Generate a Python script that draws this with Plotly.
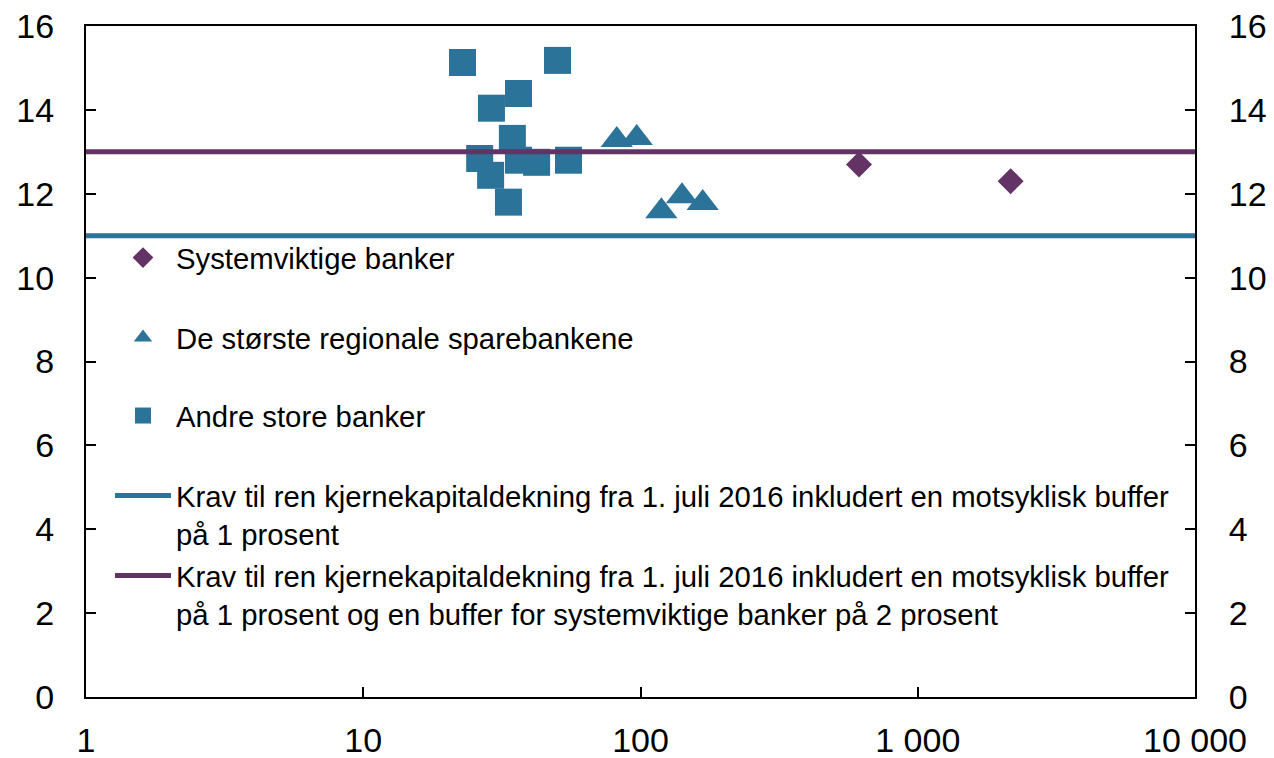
import plotly.graph_objects as go

# Bank groups: balance (NOK bn, log scale) vs. CET1 ratio (%)
sys_x = [614, 2163]
sys_y = [12.70, 12.30]

reg_x = [82.1, 96.9, 118.9, 141.1, 167.6]
reg_y = [13.28, 13.33, 11.58, 11.94, 11.78]

other_x = [22.8, 50.2, 36.3, 29.0, 34.5, 26.3, 36.3, 42.2, 55.0, 28.8, 33.4]
other_y = [15.13, 15.18, 14.39, 14.04, 13.32, 12.84, 12.80, 12.75, 12.80, 12.44, 11.80]

req_x = [1, 10000]
req_basic = [11, 11]
req_sys = [13, 13]

x_ticks = [1, 10, 100, 1000, 10000]
x_labels = ["1", "10", "100", "1 000", "10 000"]
y_ticks = [0, 2, 4, 6, 8, 10, 12, 14, 16]

PURPLE = "#633366"
BLUE = "#2B7399"
FONT = "Liberation Sans, Arial, sans-serif"

name_sys = "Systemviktige banker"
name_reg = "De største regionale sparebankene"
name_other = "Andre store banker"
name_basic = ("Krav til ren kjernekapitaldekning fra 1. juli 2016 inkludert en motsyklisk buffer"
              "<br>på 1 prosent")
name_full = ("Krav til ren kjernekapitaldekning fra 1. juli 2016 inkludert en motsyklisk buffer"
             "<br>på 1 prosent og en buffer for systemviktige banker på 2 prosent")

fig = go.Figure()
fig.add_trace(go.Scatter(x=sys_x, y=sys_y, mode="markers", name=name_sys,
                         marker=dict(symbol="diamond", size=20, color=PURPLE),
                         legend="legend"))
fig.add_trace(go.Scatter(x=reg_x, y=reg_y, mode="markers", name=name_reg,
                         marker=dict(symbol="triangle-up", size=28, color=BLUE),
                         legend="legend2"))
fig.add_trace(go.Scatter(x=other_x, y=other_y, mode="markers", name=name_other,
                         marker=dict(symbol="square", size=27, color=BLUE),
                         legend="legend3"))
fig.add_trace(go.Scatter(x=req_x, y=req_basic, mode="lines", name=name_basic,
                         line=dict(color=BLUE, width=5), yaxis="y2",
                         legend="legend4"))
fig.add_trace(go.Scatter(x=req_x, y=req_sys, mode="lines", name=name_full,
                         line=dict(color=PURPLE, width=5), yaxis="y2",
                         legend="legend5"))

W, H = 1274, 758
L, R, T, B = 86, 79, 26, 61
pw, ph = W - L - R, H - T - B


def px_x(p):
    return (p - L) / pw


def px_y(p):
    return (H - B - p) / ph


def leg(xp, yp, anchor="middle"):
    return dict(x=px_x(xp), y=px_y(yp), xanchor="left", yanchor=anchor,
                bgcolor="rgba(0,0,0,0)", borderwidth=0, itemwidth=56,
                valign="top", font=dict(family=FONT, size=29.3, color="#000"),
                tracegroupgap=0)


axis_common = dict(
    showline=True, linecolor="#000", linewidth=2,
    ticks="inside", ticklen=10, tickwidth=1.5, tickcolor="#000",
    showgrid=False, zeroline=False, automargin=False,
    tickfont=dict(family=FONT, size=34, color="#000"),
)

fig.update_layout(
    width=W, height=H,
    margin=dict(l=L, r=R, t=T, b=B),
    paper_bgcolor="white", plot_bgcolor="white",
    showlegend=True,
    xaxis=dict(type="log", range=[0, 4], tickvals=x_ticks, ticktext=x_labels,
               mirror=True, ticklabelstandoff=12, **axis_common),
    yaxis=dict(range=[0, 16], tickvals=y_ticks, mirror=True,
               ticklabelstandoff=23, **axis_common),
    yaxis2=dict(range=[0, 16], tickvals=y_ticks, overlaying="y", side="right",
                ticklabelstandoff=25, **axis_common),
    legend=leg(110, 258),
    legend2=leg(110, 338),
    legend3=leg(110, 416),
    legend4=leg(110, 470, "top"),
    legend5=leg(110, 550, "top"),
)

fig.write_html("out.html")
